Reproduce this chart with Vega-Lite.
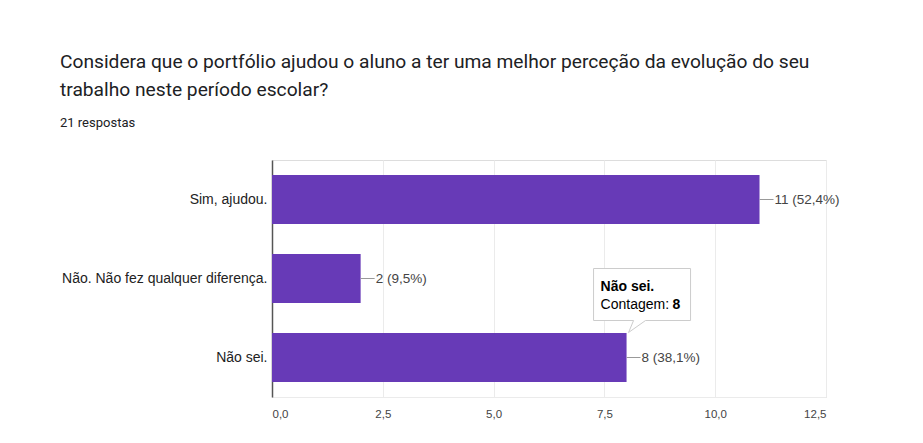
{
  "$schema": "https://vega.github.io/schema/vega-lite/v6.json",
  "width": 554,
  "height": 237,
  "autosize": {"type": "none"},
  "padding": {"left": 272, "top": 160, "right": 97, "bottom": 46},
  "background": "white",
  "title": {
    "text": ["Considera que o portfólio ajudou o aluno a ter uma melhor perceção da evolução do seu", "trabalho neste período escolar?"],
    "subtitle": "21 respostas",
    "anchor": "start",
    "frame": "group",
    "dx": -212,
    "offset": 30,
    "font": "Roboto",
    "fontSize": 19.2,
    "fontWeight": "normal",
    "color": "#202124",
    "lineHeight": 28,
    "subtitleFont": "Roboto",
    "subtitleFontSize": 13,
    "subtitleColor": "#202124",
    "subtitlePadding": 17
  },
  "data": {
    "values": [
      {"resposta": "Sim, ajudou.", "contagem": 11, "rotulo": "11 (52,4%)"},
      {"resposta": "Não. Não fez qualquer diferença.", "contagem": 2, "rotulo": "2 (9,5%)"},
      {"resposta": "Não sei.", "contagem": 8, "rotulo": "8 (38,1%)"}
    ]
  },
  "encoding": {
    "y": {
      "field": "resposta",
      "type": "nominal",
      "sort": null,
      "title": null,
      "scale": {"paddingInner": 0.38, "paddingOuter": 0.19},
      "axis": {
        "ticks": false,
        "domain": true,
        "domainColor": "#555555",
        "domainWidth": 1.5,
        "labelFont": "Liberation Sans",
        "labelFontSize": 14,
        "labelColor": "#222222",
        "labelPadding": 5,
        "labelLimit": 400
      }
    },
    "x": {
      "field": "contagem",
      "type": "quantitative",
      "title": null,
      "scale": {"domain": [0, 12.5], "nice": false},
      "axis": {
        "values": [0, 2.5, 5, 7.5, 10, 12.5],
        "labelExpr": "replace(format(datum.value, '.1f'), '.', ',')",
        "ticks": false,
        "domain": true,
        "domainColor": "#ebebeb",
        "grid": true,
        "gridColor": "#ebebeb",
        "labelFont": "Liberation Sans",
        "labelFontSize": 11.5,
        "labelColor": "#444444",
        "labelPadding": 11
      }
    }
  },
  "layer": [
    {"mark": {"type": "bar", "color": "#673ab7"}},
    {
      "mark": {"type": "rule", "color": "#999999", "strokeWidth": 1, "x2Offset": 14},
      "encoding": {"x2": {"field": "contagem"}}
    },
    {
      "mark": {"type": "text", "align": "left", "baseline": "middle", "dx": 15, "font": "Liberation Sans", "fontSize": 13.5, "color": "#444444"},
      "encoding": {"text": {"field": "rotulo"}}
    },
    {
      "transform": [{"filter": "datum.resposta == 'Não sei.'"}],
      "mark": {
        "type": "point",
        "shape": "M -0.33 -0.89 L 0.64 -0.89 L 0.64 -0.37 L 0.19 -0.37 L 0.02 -0.25 L 0.07 -0.37 L -0.33 -0.37 Z",
        "size": 40000,
        "filled": true,
        "fill": "white",
        "stroke": "#cccccc",
        "strokeWidth": 1,
        "opacity": 1
      }
    },
    {
      "transform": [{"filter": "datum.resposta == 'Não sei.'"}],
      "mark": {"type": "text", "align": "left", "baseline": "middle", "dx": -26, "dy": -71, "font": "Liberation Sans", "fontSize": 14, "fontWeight": "bold", "color": "#000000"},
      "encoding": {"text": {"field": "resposta"}}
    },
    {
      "transform": [{"filter": "datum.resposta == 'Não sei.'"}],
      "mark": {"type": "text", "align": "left", "baseline": "middle", "dx": -26, "dy": -53, "font": "Liberation Sans", "fontSize": 14, "color": "#000000", "text": "Contagem: "}
    },
    {
      "transform": [{"filter": "datum.resposta == 'Não sei.'"}],
      "mark": {"type": "text", "align": "left", "baseline": "middle", "dx": 46, "dy": -53, "font": "Liberation Sans", "fontSize": 14, "fontWeight": "bold", "color": "#000000"},
      "encoding": {"text": {"field": "contagem"}}
    }
  ]
}
